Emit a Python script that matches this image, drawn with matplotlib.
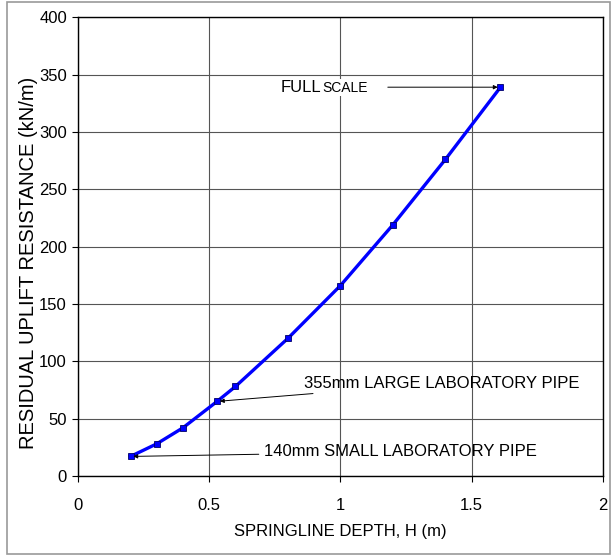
import matplotlib
matplotlib.use("Agg")
import matplotlib.pyplot as plt
from matplotlib.patches import Rectangle

# springline depth H (m) vs residual uplift resistance (kN/m)
depth = [0.2, 0.3, 0.4, 0.53, 0.6, 0.8, 1.0, 1.2, 1.4, 1.61]
resistance = [17, 28, 42, 65, 78, 120, 166, 219, 276, 339]

x_ticks = [0, 0.5, 1, 1.5, 2]
x_tick_labels = ["0", "0.5", "1", "1.5", "2"]
y_ticks = [0, 50, 100, 150, 200, 250, 300, 350, 400]

plt.rcParams['font.family'] = ['Liberation Sans Narrow', 'Liberation Sans', 'DejaVu Sans']

fig = plt.figure(figsize=(6.12, 5.56), dpi=100)
ax = fig.add_axes([0.1275, 0.144, 0.8575, 0.825])

# border round the figure
fig.patches.append(Rectangle((0.012, 0.003), 0.985, 0.993, transform=fig.transFigure,
                             fill=False, edgecolor="#999999", linewidth=1.2))

ax.plot(depth, resistance, color="#0000ff", linewidth=2.4, marker="s", markersize=4.5,
        markerfacecolor="#0000ff", markeredgecolor="#000066", markeredgewidth=0.6, zorder=3)

ax.set_xlim(0, 2)
ax.set_ylim(0, 400)
ax.set_xticks(x_ticks)
ax.set_xticklabels(x_tick_labels)
ax.set_yticks(y_ticks)
ax.tick_params(labelsize=12, length=4, direction="out", pad=12)
ax.tick_params(axis="y", pad=4)
ax.grid(True, color="#555555", linewidth=0.8)
ax.set_axisbelow(True)
for s in ax.spines.values():
    s.set_color("black")
    s.set_linewidth(1.0)

ax.set_xlabel("SPRINGLINE DEPTH, H (m)", fontsize=12, labelpad=8)
ax.set_ylabel("RESIDUAL UPLIFT RESISTANCE (kN/m)", fontsize=14.5,
              family=['Liberation Sans', 'DejaVu Sans'])
ax.yaxis.set_label_coords(-0.076, 0.465)

arrow = dict(arrowstyle="-|>", color="black", linewidth=0.7, mutation_scale=6,
             shrinkA=2, shrinkB=2)
# FULL SCALE, small caps look
ax.annotate("", xy=(depth[-1], resistance[-1]), xytext=(1.17, resistance[-1]),
            arrowprops=arrow)
y_fs = resistance[-1] - 4
ax.text(0.774, y_fs, "FULL", fontsize=12, va="baseline", ha="left",
        bbox=dict(facecolor="white", edgecolor="none", pad=1))
ax.text(0.93, y_fs, "SCALE", fontsize=10, va="baseline", ha="left",
        bbox=dict(facecolor="white", edgecolor="none", pad=1))
ax.annotate("355mm LARGE LABORATORY PIPE", xy=(depth[3], resistance[3]), xytext=(0.86, 81),
            fontsize=12, va="center", ha="left", arrowprops=arrow)
ax.annotate("140mm SMALL LABORATORY PIPE", xy=(depth[0], resistance[0]), xytext=(0.71, 21),
            fontsize=12, va="center", ha="left", arrowprops=arrow)

fig.savefig("out.png", dpi=100)
